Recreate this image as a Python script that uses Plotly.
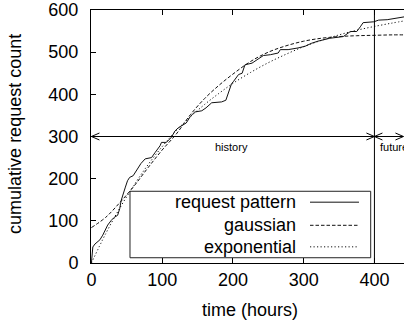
import plotly.graph_objects as go

# ---- data ----
req_x = [0, 1, 2, 5, 9, 12, 16, 19, 23, 28, 32, 37, 40, 42, 44.5, 48, 51, 54, 59, 65, 70, 76,
         85, 90, 97, 99, 106, 113, 118, 123, 128, 134, 140, 146, 156, 162, 170, 184, 190, 195,
         198, 201, 208, 213, 217, 227, 243, 253, 264, 267, 278, 292, 302, 311, 320, 337, 356,
         366, 375, 380, 384, 399, 406, 418, 427, 443]
req_y = [0, 20, 38, 45, 50, 55, 66, 78, 90, 101, 108, 113, 129, 148, 164, 180, 195, 203, 207, 222,
         236, 247, 250, 262, 278, 286, 286, 298, 313, 321, 326, 332, 348, 358, 361, 368, 380, 382,
         386, 410, 425, 431, 447, 450, 470, 474, 492, 494, 498, 506, 506, 510, 514, 521, 526, 533,
         537, 549, 549, 560, 570, 572, 576, 577, 580, 584]

fit_x = [0, 20, 40, 60, 80, 100, 120, 140, 160, 180, 200, 225, 250, 275, 300, 325, 350, 375, 400, 425, 445]
gauss_y = [84, 108, 143, 182, 226, 268, 306, 352, 390, 421, 448, 478, 500, 515, 526, 533, 537, 539, 540, 541, 541]
expo_y = [0, 69, 130, 184, 233, 276, 314, 347, 376, 402, 426, 452, 475, 495, 513, 528, 541, 552, 561, 569, 575]

x_ticks = [0, 100, 200, 300, 400]
y_ticks = [0, 100, 200, 300, 400, 500, 600]
series_names = ["request pattern", "gaussian", "exponential"]

HISTORY_END = 400
ARROW_Y = 300
FUTURE_END = 441

FONT = "Liberation Sans, Arial, sans-serif"
LINE_COLOR = "#111111"
DASH_G = "3.5px,2px"
DASH_E = "1.2px,2.3px"

fig = go.Figure()
fig.add_trace(go.Scatter(x=req_x, y=req_y, mode="lines", name=series_names[0],
                         line=dict(color=LINE_COLOR, width=1)))
fig.add_trace(go.Scatter(x=fit_x, y=gauss_y, mode="lines", name=series_names[1], line_shape="spline",
                         line=dict(color=LINE_COLOR, width=1, dash=DASH_G)))
fig.add_trace(go.Scatter(x=fit_x, y=expo_y, mode="lines", name=series_names[2], line_shape="spline",
                         line=dict(color=LINE_COLOR, width=1, dash=DASH_E)))

# plot geometry helpers (pixels -> data units) for arrow heads
PX_X = 0.7068   # pixels per hour
PX_Y = 0.425    # pixels per request
head_dx = 8 / PX_X
head_dy = 3.5 / PX_Y

shapes = []
shapes.append(dict(type="line", xref="x", yref="y", x0=HISTORY_END, x1=HISTORY_END, y0=0, y1=600,
                   line=dict(color="black", width=1)))
shapes.append(dict(type="line", xref="x", yref="y", x0=0, x1=HISTORY_END, y0=ARROW_Y, y1=ARROW_Y,
                   line=dict(color="black", width=1)))
shapes.append(dict(type="line", xref="x", yref="y", x0=HISTORY_END, x1=FUTURE_END, y0=ARROW_Y, y1=ARROW_Y,
                   line=dict(color="black", width=1)))


def vhead(tip, direction):
    bx = tip + direction * head_dx
    return dict(type="path", xref="x", yref="y",
                path=f"M {bx},{ARROW_Y + head_dy} L {tip},{ARROW_Y} L {bx},{ARROW_Y - head_dy}",
                line=dict(color="black", width=1))


shapes += [vhead(0, 1), vhead(HISTORY_END, -1), vhead(HISTORY_END, 1), vhead(FUTURE_END, -1)]

# manual gnuplot-style key (text right-aligned, sample on the right)
KEY_BOX = (0.1246, 0.0208, 0.8936, 0.2835)
KEY_TEXT_X = 0.6623
KEY_SAMPLE = (0.6997, 0.8562)
KEY_ROWS = [0.2404, 0.149, 0.0639]
shapes.append(dict(type="rect", xref="paper", yref="paper", x0=KEY_BOX[0], y0=KEY_BOX[1],
                   x1=KEY_BOX[2], y1=KEY_BOX[3], line=dict(color="#222222", width=1)))
dashes = ["solid", DASH_G, DASH_E]
for ry, d in zip(KEY_ROWS, dashes):
    shapes.append(dict(type="line", xref="paper", yref="paper", x0=KEY_SAMPLE[0], x1=KEY_SAMPLE[1],
                       y0=ry, y1=ry, line=dict(color=LINE_COLOR, width=1, dash=d)))

annotations = []
for ry, name in zip(KEY_ROWS, series_names):
    annotations.append(dict(xref="paper", yref="paper", x=KEY_TEXT_X, y=ry, text=name,
                            showarrow=False, xanchor="right", yanchor="middle",
                            font=dict(family=FONT, size=18, color="black")))
annotations.append(dict(xref="x", yref="y", x=198, y=ARROW_Y - 24, text="history", showarrow=False,
                        xanchor="center", yanchor="middle", font=dict(family=FONT, size=11, color="black")))
annotations.append(dict(xref="x", yref="y", x=HISTORY_END + 4.5, y=ARROW_Y - 24, text="future",
                        showarrow=False, xanchor="left", yanchor="middle",
                        font=dict(family=FONT, size=11, color="black")))
annotations.append(dict(xref="paper", yref="paper", x=0.508, y=-0.184, text="time (hours)",
                        showarrow=False, xanchor="center", yanchor="middle",
                        font=dict(family=FONT, size=18, color="black")))
annotations.append(dict(xref="paper", yref="paper", x=-0.243, y=0.51, text="cumulative request count",
                        showarrow=False, xanchor="center", yanchor="middle", textangle=-90,
                        font=dict(family=FONT, size=18, color="black")))

fig.update_layout(
    width=404, height=324,
    margin=dict(l=91, r=0, t=8, b=61),
    plot_bgcolor="white", paper_bgcolor="white",
    showlegend=False,
    font=dict(family=FONT, size=18, color="black"),
    shapes=shapes, annotations=annotations,
    xaxis=dict(range=[-0.6, 441.8], tickvals=x_ticks, ticks="inside", ticklen=5, tickcolor="black",
               showline=True, linecolor="black", linewidth=1, mirror="ticks",
               showgrid=False, zeroline=False, tickfont=dict(family=FONT, size=18),
               ticklabeloverflow="allow"),
    yaxis=dict(range=[0, 600], tickvals=y_ticks, ticks="inside", ticklen=5, tickcolor="black",
               showline=True, linecolor="black", linewidth=1, mirror=False,
               showgrid=False, zeroline=False, tickfont=dict(family=FONT, size=18),
               ticklabelstandoff=8, ticklabeloverflow="allow"),
)

fig.write_html("out.html")
